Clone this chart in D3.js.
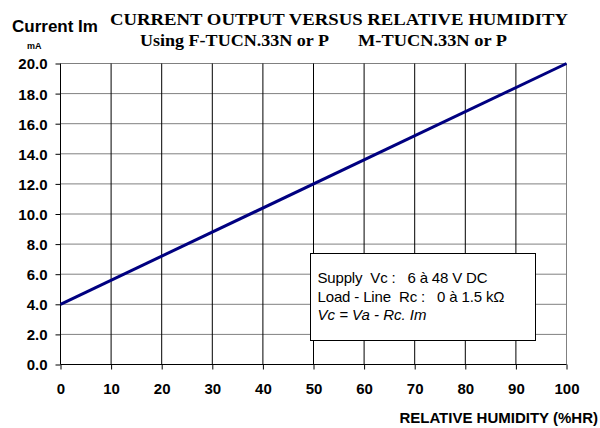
<!DOCTYPE html>
<html>
<head>
<meta charset="utf-8">
<script src="https://cdn.jsdelivr.net/npm/d3@7"></script>
<style>
  html, body { margin: 0; padding: 0; background: #fff; }
  svg { display: block; }
  text { white-space: pre; }
</style>
</head>
<body>
<svg id="chart" width="600" height="428"></svg>
<script>
// ---- data ----
const humidity = [0, 100];             // %HR
const currentMA = [4.0, 20.0];         // mA
const xTicks = [0, 10, 20, 30, 40, 50, 60, 70, 80, 90, 100];
const yTicks = [0, 2, 4, 6, 8, 10, 12, 14, 16, 18, 20];
const titleLine1 = "CURRENT OUTPUT VERSUS RELATIVE HUMIDITY";
const titleLine2a = "Using F-TUCN.33N or P";
const titleLine2b = "M-TUCN.33N or P";
const legendLines = ["Supply  Vc :   6 à 48 V DC", "Load - Line  Rc :   0 à 1.5 kΩ", "Vc = Va - Rc. Im"];
const legendWidths = [170, 187, 109];

const svg = d3.select("#chart");
const x = d3.scaleLinear().domain([0, 100]).range([60.5, 566.5]);
const y = d3.scaleLinear().domain([0, 20]).range([364.5, 63.5]);

// horizontal gridlines (grey)
svg.append("g").selectAll("line").data(yTicks.filter(d => d > 0)).join("line")
  .attr("x1", x(0)).attr("x2", x(100))
  .attr("y1", d => y(d)).attr("y2", d => y(d))
  .attr("stroke", "#808080").attr("stroke-width", 1);

// vertical gridlines (black)
svg.append("g").selectAll("line").data(xTicks.filter(d => d > 0 && d < 100)).join("line")
  .attr("x1", d => x(d)).attr("x2", d => x(d))
  .attr("y1", y(0)).attr("y2", y(20))
  .attr("stroke", "#000").attr("stroke-width", 1);
// right border
svg.append("line").attr("x1", x(100)).attr("x2", x(100)).attr("y1", y(0)).attr("y2", y(20))
  .attr("stroke", "#808080");

// axes
const xAxis = d3.axisBottom(x).tickValues(xTicks).tickSize(5).tickFormat(d3.format("d"));
const gx = svg.append("g").attr("transform", `translate(0,${y(0)})`).call(xAxis);
gx.select(".domain").attr("stroke", "#000").attr("d", `M${x(0)},0H${x(100)}`);
gx.selectAll(".tick line").attr("stroke", "#000");
gx.selectAll(".tick text").attr("y", 29).attr("dy", 0)
  .attr("font-family", "Liberation Sans, Arial, sans-serif").attr("font-weight", "bold")
  .attr("font-size", "15px").attr("fill", "#000");

const yAxis = d3.axisLeft(y).tickValues(yTicks).tickSize(5).tickFormat(d3.format(".1f"));
const gy = svg.append("g").attr("transform", `translate(${x(0)},0)`).call(yAxis);
gy.select(".domain").attr("stroke", "#000").attr("d", `M0,${y(0)}V${y(20)}`);
gy.selectAll(".tick line").attr("stroke", "#000");
gy.selectAll(".tick text").attr("x", -13).attr("dy", "0.36em")
  .attr("font-family", "Liberation Sans, Arial, sans-serif").attr("font-weight", "bold")
  .attr("font-size", "15px").attr("fill", "#000");

// data line
const line = d3.line().x((d, i) => x(humidity[i])).y(d => y(d));
svg.append("path").datum(currentMA).attr("d", line)
  .attr("fill", "none").attr("stroke", "#000080").attr("stroke-width", 3);

// legend box
const lb = svg.append("g");
lb.append("rect").attr("x", 310.5).attr("y", 253.5).attr("width", 225).attr("height", 87)
  .attr("fill", "#fff").attr("stroke", "#000").attr("stroke-width", 1);
lb.selectAll("text").data(legendLines).join("text")
  .attr("x", 317.5).attr("y", (d, i) => 283 + i * 18.5)
  .attr("font-family", "Liberation Sans, Arial, sans-serif").attr("font-size", "15px")
  .attr("font-style", (d, i) => i === 2 ? "italic" : "normal")
  .attr("textLength", (d, i) => legendWidths[i]).attr("lengthAdjust", "spacing")
  .attr("fill", "#000").text(d => d);

// titles
svg.append("text").attr("x", 110).attr("y", 25).text(titleLine1)
  .attr("font-family", "Liberation Serif, Times New Roman, serif").attr("font-weight", "bold")
  .attr("font-size", "17.5px").attr("textLength", 458).attr("lengthAdjust", "spacingAndGlyphs");
svg.append("text").attr("x", 140).attr("y", 45.5).text(titleLine2a)
  .attr("font-family", "Liberation Serif, Times New Roman, serif").attr("font-weight", "bold")
  .attr("font-size", "17.5px").attr("textLength", 189).attr("lengthAdjust", "spacingAndGlyphs");
svg.append("text").attr("x", 358).attr("y", 45.5).text(titleLine2b)
  .attr("font-family", "Liberation Serif, Times New Roman, serif").attr("font-weight", "bold")
  .attr("font-size", "17.5px").attr("textLength", 149).attr("lengthAdjust", "spacingAndGlyphs");

svg.append("text").attr("x", 12).attr("y", 32).text("Current Im")
  .attr("font-family", "Liberation Sans, Arial, sans-serif").attr("font-weight", "bold")
  .attr("font-size", "17px");
svg.append("text").attr("x", 27).attr("y", 49).text("mA")
  .attr("font-family", "Liberation Sans, Arial, sans-serif").attr("font-weight", "bold")
  .attr("font-size", "9px");

svg.append("text").attr("x", 598).attr("y", 423).attr("text-anchor", "end").text("RELATIVE HUMIDITY (%HR)")
  .attr("font-family", "Liberation Sans, Arial, sans-serif").attr("font-weight", "bold")
  .attr("font-size", "15px");
</script>
</body>
</html>
